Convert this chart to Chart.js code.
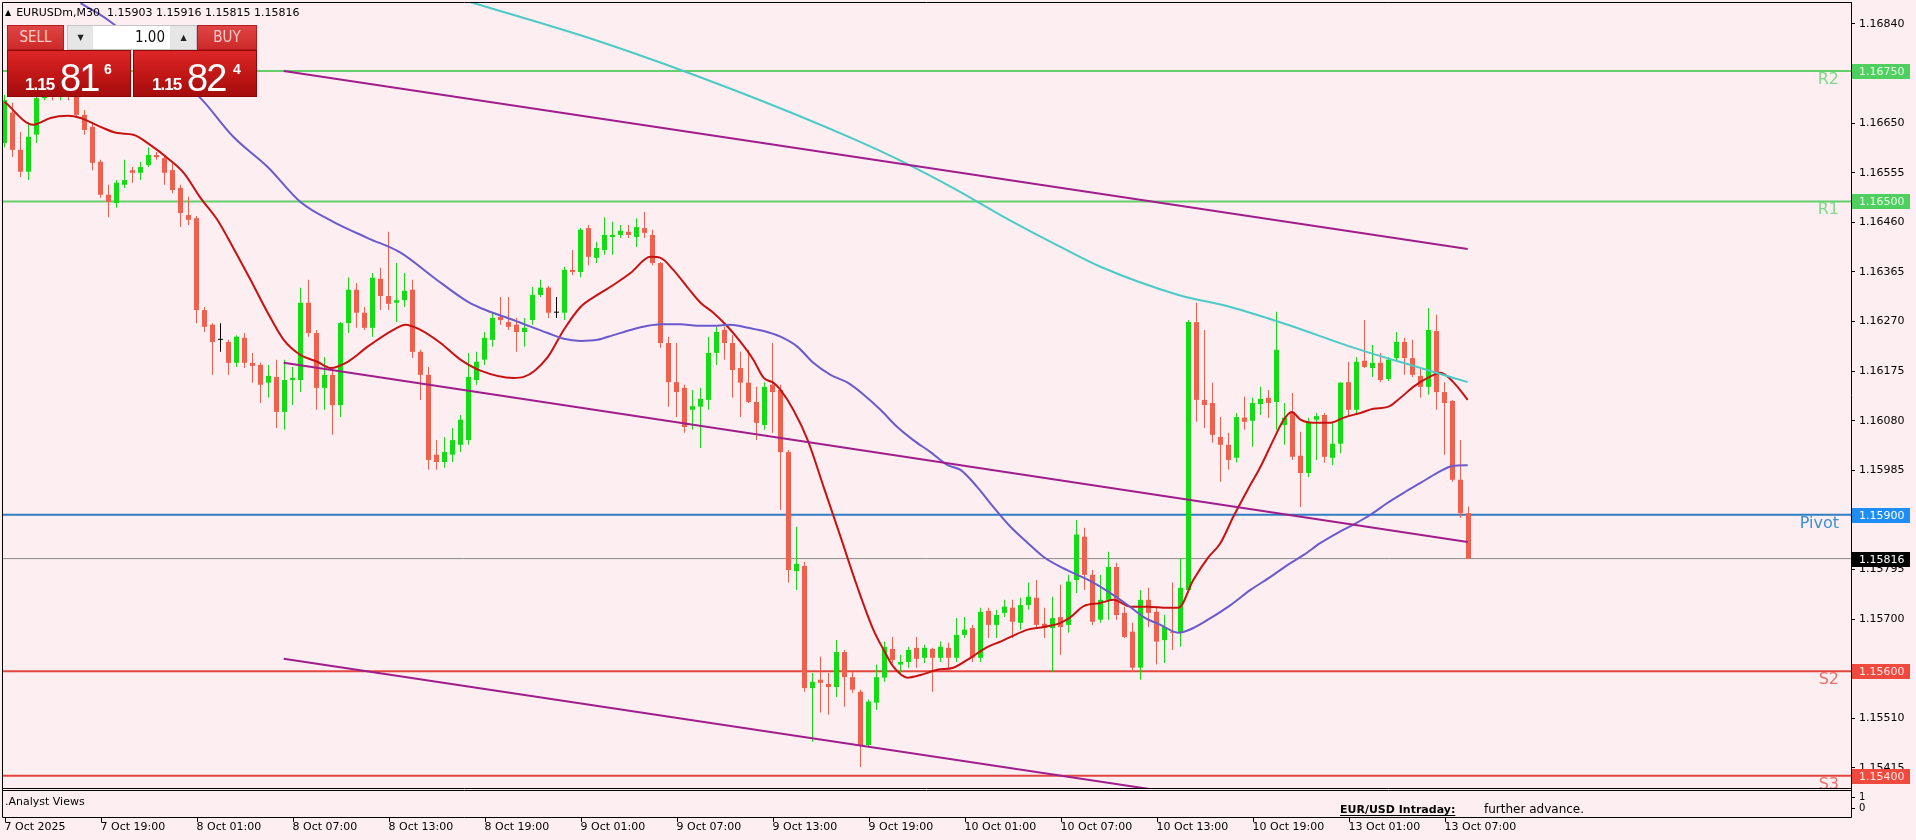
<!DOCTYPE html>
<html>
<head>
<meta charset="utf-8">
<title>EURUSDm,M30</title>
<script src="https://cdn.jsdelivr.net/npm/chart.js@4.4.1/dist/chart.umd.min.js"></script>
<style>
  html, body { margin:0; padding:0; background:#fdeef2; overflow:hidden; }
  #wrap { position:relative; width:1916px; height:840px; }
  #chart { position:absolute; left:0; top:0; }
  #title { position:absolute; left:5px; top:6px; font:11px 'DejaVu Sans', sans-serif; color:#000; white-space:pre; }
  #title .tri { font-size:8px; position:relative; top:-1px; margin-right:5px; }
  #otc { position:absolute; left:7px; top:25px; width:250px; height:72px; }
  .tbtn { position:absolute; top:0; height:25px; box-sizing:border-box; border:1px solid #b71c1c;
          background:linear-gradient(#e04444, #cc2a2a); color:#f7cccc; text-align:center;
          font:15px 'DejaVu Sans Condensed', 'DejaVu Sans', sans-serif; line-height:23px; }
  .lot { position:absolute; top:0; left:60px; width:130px; height:25px; box-sizing:border-box;
         background:#e6e6e6; border:1px solid #c4c4c4; }
  .lot .arr { position:absolute; top:0; width:25px; height:23px; text-align:center; font:8px 'DejaVu Sans'; line-height:23px; color:#222; }
  .lot .val { position:absolute; left:25px; top:0; width:77px; height:23px; background:#fff; text-align:right;
              box-sizing:border-box; padding-right:5px; font:15px 'DejaVu Sans Condensed', 'DejaVu Sans', sans-serif; line-height:23px; color:#111; }
  .px { position:absolute; top:25px; width:124px; height:47px; box-sizing:border-box; border:1px solid #8e0606;
        background:linear-gradient(#dc2626, #c01616 55%, #a50c0c); color:#fff; }
  .px span { position:absolute; line-height:1; white-space:nowrap; }
  .px .sm { top:24px; font:bold 17px 'Liberation Sans', sans-serif; letter-spacing:-1px; }
  .px .big { top:6px; font:38px 'Liberation Sans', sans-serif; letter-spacing:-2px; }
  .px .sup { top:10px; font:bold 14px 'Liberation Sans', sans-serif; }
</style>
</head>
<body>
<div id="wrap">
  <canvas id="chart" width="1916" height="840"></canvas>
  <div id="title"><span class="tri">&#9650;</span>EURUSDm,M30  1.15903 1.15916 1.15815 1.15816</div>
  <div id="otc">
    <div class="tbtn" style="left:0;width:57px;">SELL</div>
    <div class="lot">
      <span class="arr" style="left:0;">&#9660;</span>
      <span class="val">1.00</span>
      <span class="arr" style="right:0;">&#9650;</span>
    </div>
    <div class="tbtn" style="left:190px;width:60px;">BUY</div>
    <div class="px" style="left:0;">
      <span class="sm" style="left:17px;">1.15</span><span class="big" style="left:52px;">81</span><span class="sup" style="left:96px;">6</span>
    </div>
    <div class="px" style="left:126px;">
      <span class="sm" style="left:18px;">1.15</span><span class="big" style="left:53px;">82</span><span class="sup" style="left:99px;">4</span>
    </div>
  </div>
</div>
<script>
// EURUSDm M30, one candle per half hour, index 0 = 7 Oct 13:00
const opens = [
  1.16612,1.16670,1.16599,1.16557,1.16628,1.16698,1.16723,1.16700,1.16718,1.16704,
  1.16666,1.16643,1.16576,1.16513,1.16497,1.16532,1.16560,1.16555,1.16570,1.16589,
  1.16583,1.16560,1.16526,1.16474,1.16468,1.16292,1.16264,1.16235,1.16231,1.16191,
  1.16239,1.16191,1.16187,1.16153,1.16164,1.16097,1.16158,1.16158,1.16306,1.16248,
  1.16143,1.16168,1.16110,1.16267,1.16331,1.16287,1.16258,1.16352,1.16319,1.16306,
  1.16311,1.16331,1.16212,1.16168,1.16015,1.16001,1.16015,1.16034,1.16043,1.16158,
  1.16197,1.16235,1.16279,1.16269,1.16264,1.16250,1.16273,1.16321,1.16335,1.16287,
  1.16287,1.16369,1.16365,1.16449,1.16392,1.16407,1.16432,1.16436,1.16442,1.16432,
  1.16449,1.16436,1.16382,1.16229,1.16154,1.16143,1.16101,1.16107,1.16120,1.16210,
  1.16254,1.16229,1.16181,1.16153,1.16116,1.16072,1.16149,1.16139,1.16020,1.15792,
  1.15802,1.15568,1.15584,1.15576,1.15570,1.15637,1.15589,1.15561,1.15459,1.15540,
  1.15588,1.15643,1.15613,1.15618,1.15645,1.15626,1.15643,1.15626,1.15645,1.15626,
  1.15670,1.15683,1.15626,1.15716,1.15689,1.15712,1.15722,1.15693,1.15727,1.15741,
  1.15691,1.15683,1.15704,1.15689,1.15775,1.15858,1.15785,1.15699,1.15737,1.15800,
  1.15712,1.15676,1.15607,1.15737,1.15714,1.15660,1.15676,1.15674,1.15756,1.16269,
  1.16120,1.16114,1.16049,1.16034,1.16009,1.16086,1.16080,1.16112,1.16124,1.16116,
  1.16072,1.16097,1.16013,1.15980,1.16082,1.16091,1.16009,1.16036,1.16154,1.16101,
  1.16195,1.16181,1.16191,1.16160,1.16200,1.16231,1.16200,1.16166,1.16145,1.16252,
  1.16135,1.16118,1.15967,1.15903
];
const highs = [
  1.16704,1.16689,1.16633,1.16652,1.16714,1.16742,1.16737,1.16733,1.16729,1.16723,
  1.16675,1.16652,1.16580,1.16532,1.16541,1.16580,1.16566,1.16576,1.16604,1.16595,
  1.16589,1.16574,1.16532,1.16509,1.16472,1.16298,1.16267,1.16267,1.16235,1.16244,
  1.16248,1.16210,1.16191,1.16187,1.16197,1.16197,1.16183,1.16335,1.16350,1.16254,
  1.16202,1.16183,1.16269,1.16355,1.16344,1.16298,1.16363,1.16373,1.16442,1.16382,
  1.16363,1.16350,1.16216,1.16183,1.16043,1.16049,1.16066,1.16091,1.16210,1.16212,
  1.16250,1.16287,1.16317,1.16317,1.16277,1.16277,1.16336,1.16350,1.16338,1.16317,
  1.16375,1.16407,1.16449,1.16455,1.16423,1.16470,1.16461,1.16455,1.16455,1.16468,
  1.16480,1.16446,1.16384,1.16241,1.16229,1.16149,1.16139,1.16143,1.16241,1.16260,
  1.16260,1.16244,1.16212,1.16216,1.16145,1.16154,1.16229,1.16149,1.16024,1.15877,
  1.15810,1.15597,1.15628,1.15597,1.15660,1.15641,1.15599,1.15565,1.15546,1.15613,
  1.15657,1.15666,1.15632,1.15647,1.15666,1.15651,1.15645,1.15657,1.15655,1.15702,
  1.15704,1.15689,1.15722,1.15722,1.15718,1.15737,1.15737,1.15741,1.15770,1.15775,
  1.15722,1.15743,1.15766,1.15785,1.15890,1.15875,1.15794,1.15785,1.15829,1.15808,
  1.15724,1.15693,1.15756,1.15760,1.15724,1.15708,1.15770,1.15817,1.16273,1.16306,
  1.16254,1.16153,1.16087,1.16057,1.16095,1.16126,1.16124,1.16145,1.16139,1.16289,
  1.16114,1.16133,1.16059,1.16086,1.16095,1.16095,1.16076,1.16154,1.16193,1.16202,
  1.16273,1.16225,1.16210,1.16202,1.16250,1.16239,1.16235,1.16183,1.16296,1.16283,
  1.16154,1.16120,1.16043,1.15916
];
const lows = [
  1.16604,1.16585,1.16547,1.16541,1.16612,1.16694,1.16694,1.16694,1.16694,1.16660,
  1.16628,1.16560,1.16507,1.16470,1.16488,1.16526,1.16536,1.16541,1.16566,1.16580,
  1.16532,1.16516,1.16451,1.16455,1.16267,1.16250,1.16168,1.16212,1.16168,1.16183,
  1.16181,1.16153,1.16114,1.16124,1.16066,1.16063,1.16110,1.16135,1.16241,1.16101,
  1.16101,1.16053,1.16087,1.16248,1.16258,1.16254,1.16241,1.16292,1.16292,1.16269,
  1.16298,1.16200,1.16120,1.15986,1.15986,1.15990,1.16001,1.16020,1.16034,1.16149,
  1.16187,1.16222,1.16264,1.16254,1.16212,1.16222,1.16264,1.16317,1.16277,1.16277,
  1.16273,1.16359,1.16355,1.16378,1.16382,1.16398,1.16398,1.16430,1.16430,1.16413,
  1.16430,1.16378,1.16220,1.16107,1.16087,1.16057,1.16063,1.16028,1.16101,1.16187,
  1.16197,1.16124,1.16087,1.16114,1.16043,1.16063,1.16057,1.15909,1.15770,1.15756,
  1.15561,1.15465,1.15521,1.15517,1.15551,1.15532,1.15559,1.15417,1.15456,1.15526,
  1.15580,1.15616,1.15597,1.15607,1.15607,1.15616,1.15561,1.15618,1.15607,1.15618,
  1.15664,1.15618,1.15618,1.15664,1.15664,1.15704,1.15664,1.15680,1.15718,1.15685,
  1.15664,1.15599,1.15632,1.15674,1.15750,1.15756,1.15689,1.15693,1.15699,1.15699,
  1.15664,1.15599,1.15584,1.15685,1.15613,1.15616,1.15641,1.15647,1.15750,1.16078,
  1.16066,1.16038,1.15963,1.15986,1.16000,1.16063,1.16030,1.16091,1.16086,1.16063,
  1.16034,1.16005,1.15915,1.15972,1.16005,1.16000,1.15995,1.16018,1.16087,1.16095,
  1.16181,1.16164,1.16154,1.16156,1.16193,1.16168,1.16164,1.16124,1.16130,1.16101,
  1.16015,1.15963,1.15894,1.15815
];
const closes = [
  1.16694,1.16599,1.16557,1.16624,1.16698,1.16723,1.16704,1.16718,1.16702,1.16666,
  1.16637,1.16574,1.16513,1.16499,1.16536,1.16541,1.16555,1.16566,1.16589,1.16585,
  1.16555,1.16522,1.16478,1.16465,1.16292,1.16260,1.16231,1.16235,1.16191,1.16241,
  1.16191,1.16185,1.16149,1.16166,1.16097,1.16158,1.16162,1.16306,1.16248,1.16143,
  1.16168,1.16110,1.16267,1.16331,1.16287,1.16258,1.16354,1.16319,1.16304,1.16311,
  1.16329,1.16212,1.16168,1.16005,1.16001,1.16020,1.16043,1.16082,1.16164,1.16193,
  1.16239,1.16277,1.16273,1.16260,1.16250,1.16258,1.16321,1.16335,1.16287,1.16287,
  1.16369,1.16365,1.16446,1.16394,1.16411,1.16436,1.16436,1.16444,1.16436,1.16451,
  1.16440,1.16382,1.16229,1.16154,1.16135,1.16068,1.16108,1.16122,1.16210,1.16250,
  1.16229,1.16177,1.16153,1.16116,1.16076,1.16145,1.16135,1.16020,1.15794,1.15806,
  1.15568,1.15580,1.15578,1.15570,1.15637,1.15589,1.15565,1.15459,1.15542,1.15589,
  1.15647,1.15622,1.15618,1.15641,1.15624,1.15645,1.15626,1.15647,1.15626,1.15670,
  1.15680,1.15626,1.15714,1.15689,1.15708,1.15724,1.15695,1.15727,1.15743,1.15689,
  1.15683,1.15702,1.15685,1.15772,1.15862,1.15785,1.15695,1.15737,1.15800,1.15708,
  1.15666,1.15607,1.15737,1.15712,1.15657,1.15685,1.15674,1.15760,1.16269,1.16120,
  1.16110,1.16053,1.16034,1.16005,1.16087,1.16078,1.16114,1.16122,1.16114,1.16216,
  1.16086,1.16011,1.15980,1.16078,1.16089,1.16011,1.16036,1.16153,1.16101,1.16193,
  1.16183,1.16191,1.16158,1.16197,1.16231,1.16200,1.16168,1.16145,1.16254,1.16135,
  1.16114,1.15967,1.15903,1.15816
];

// moving averages: [bar index, price]
const maFast = [
  [0,1.16691],[3.6,1.16647],[5.75,1.16660],[7.9,1.16664],[9.5,1.16660],[12,1.16643],[14.1,1.16631],
  [16.1,1.16628],[18.25,1.16608],[20.4,1.16583],[22.4,1.16555],[24.5,1.16507],[26.6,1.16465],
  [28.6,1.16411],[30.75,1.16350],[32.9,1.16287],[34.9,1.16235],[37,1.16206],[39.1,1.16193],
  [40.75,1.16181],[42.9,1.16193],[45.4,1.16222],[48.6,1.16254],[50.1,1.16264],[52,1.16254],
  [54.5,1.16229],[57,1.16197],[59.5,1.16176],[63.6,1.16162],[64.9,1.16164],[67.9,1.16202],
  [69.9,1.16254],[72,1.16298],[74.1,1.16321],[76.1,1.16340],[78.25,1.16363],[80.75,1.16394],
  [82,1.16392],[83.6,1.16369],[85.4,1.16335],[87,1.16306],[88.6,1.16287],[90.4,1.16260],
  [92,1.16231],[93.6,1.16197],[94.9,1.16162],[96.1,1.16153],[97,1.16139],[98.6,1.16101],
  [100.4,1.16043],[102.4,1.15953],[104.5,1.15858],[106.6,1.15762],[108.6,1.15680],[109.9,1.15641],
  [111.1,1.15609],[112.9,1.15588],[114.5,1.15593],[116.6,1.15603],[118.6,1.15607],[120.75,1.15626],
  [122.9,1.15647],[124.5,1.15657],[125.75,1.15666],[127.9,1.15680],[129.9,1.15685],[132,1.15693],
  [133.25,1.15704],[134.9,1.15725],[137,1.15731],[138.6,1.15737],[140.75,1.15724],[142.9,1.15724],
  [145.4,1.15722],[146.75,1.15722],[148.6,1.15775],[150.4,1.15817],[152,1.15846],[153.6,1.15896],
  [155.4,1.15948],[157,1.15992],[158.6,1.16043],[159.9,1.16082],[160.9,1.16097],[162,1.16082],
  [163.6,1.16076],[165.75,1.16076],[167.4,1.16086],[169.5,1.16095],[171.1,1.16103],[173,1.16107],
  [174.5,1.16124],[176.1,1.16145],[177.9,1.16162],[179.5,1.16172],[181.1,1.16154],[182.9,1.16120]
];
const maMid = [
  [9.5,1.16880],[12.9,1.16848],[24.5,1.16698],[28.6,1.16624],[32.9,1.16566],[37,1.16499],
  [41.1,1.16461],[45.4,1.16430],[49.5,1.16402],[53.6,1.16355],[57.9,1.16308],[59.5,1.16296],
  [63.6,1.16273],[67.9,1.16248],[69.9,1.16237],[72,1.16233],[74.1,1.16235],[76.1,1.16244],
  [78.25,1.16254],[80.4,1.16262],[82,1.16265],[84.5,1.16265],[86.6,1.16262],[88.6,1.16262],
  [90.75,1.16264],[92.9,1.16258],[94.9,1.16252],[97,1.16241],[99.1,1.16222],[101.1,1.16191],
  [103.25,1.16168],[105.4,1.16153],[107.4,1.16130],[109.5,1.16101],[111.6,1.16068],[113.6,1.16043],
  [115.75,1.16020],[117.9,1.15995],[119.5,1.15986],[121.6,1.15953],[123.6,1.15915],[125.75,1.15877],
  [127.9,1.15846],[129.9,1.15819],[132,1.15800],[134.1,1.15785],[136.1,1.15770],[138.25,1.15750],
  [140.4,1.15727],[142.4,1.15704],[144.5,1.15689],[146.75,1.15674],[148.6,1.15683],[150.75,1.15702],
  [153.25,1.15727],[155.75,1.15756],[158.25,1.15781],[160.4,1.15804],[162.4,1.15823],[164.5,1.15846],
  [166.6,1.15865],[168.6,1.15881],[170.75,1.15900],[172.9,1.15923],[174.9,1.15942],[177,1.15961],
  [179.1,1.15980],[181.1,1.15994],[182.9,1.15995]
];
const maSlow = [
  [58.25,1.16882],[74.5,1.16806],[91.1,1.16714],[106.4,1.16618],[111.75,1.16580],[119.5,1.16518],
  [124.5,1.16474],[132,1.16413],[137,1.16375],[146.75,1.16321],[153.25,1.16298],[160.4,1.16264],
  [168.6,1.16220],[177,1.16181],[182.9,1.16154]
];

// regression channel
const channelIdx = [34.9, 182.9];
const channelUpper = [1.16750, 1.16409];
const channelMiddle = [1.16191, 1.15848];
const channelLower = [1.15624, 1.15283];

// pivot levels
const levelNames = ['R2', 'R1', 'Pivot', 'S2', 'S3'];
const levelValues = [1.16750, 1.16500, 1.15900, 1.15600, 1.15400];
const lastPrice = 1.15816;

const priceTicks = [1.16840,1.16745,1.16650,1.16555,1.16460,1.16365,1.16270,1.16175,1.16080,
                    1.15985,1.15890,1.15795,1.15700,1.15605,1.15510,1.15415];
const timeTickIdx = [0,12,24,36,48,60,72,84,96,108,120,132,144,156,168,180];
const timeTickText = ['7 Oct 2025','7 Oct 19:00','8 Oct 01:00','8 Oct 07:00','8 Oct 13:00','8 Oct 19:00',
                      '9 Oct 01:00','9 Oct 07:00','9 Oct 13:00','9 Oct 19:00','10 Oct 01:00','10 Oct 07:00',
                      '10 Oct 13:00','10 Oct 19:00','13 Oct 01:00','13 Oct 07:00'];

const BULL = '#14dc14', BEAR = '#f0604e', DOJI = '#000000';
const levelLine = ['#62cf6a', '#62cf6a', '#2f7ec4', '#e2463e', '#e2463e'];
const levelText = ['#7fd987', '#7fd987', '#3d8fd6', '#e8706a', '#e8706a'];
const levelBox = ['#4fcf5f', '#4fcf5f', '#1e8ef5', '#f04a3e', '#f04a3e'];
const levelBoxText = ['#e4fbe6', '#e4fbe6', '#ffffff', '#ffe6e4', '#ffe6e4'];

const idx = opens.map((_, i) => i);
const candleColor = idx.map(i => closes[i] > opens[i] ? BULL : closes[i] < opens[i] ? BEAR : DOJI);

Chart.defaults.font.family = "'DejaVu Sans', sans-serif";
Chart.defaults.font.size = 11;
Chart.defaults.color = '#000';

const toPts = arr => arr.map(([i, v]) => ({ x: i, y: v }));
const hLine = (v, color, width, order) => ({
  type: 'line', data: [{ x: -1, y: v }, { x: 240, y: v }], borderColor: color, borderWidth: width,
  pointRadius: 0, order, clip: 0
});
const maLine = (pts, color) => ({
  type: 'line', data: toPts(pts), borderColor: color, borderWidth: 2, pointRadius: 0,
  cubicInterpolationMode: 'monotone', order: 2, clip: 0
});
const channel = (vals) => ({
  type: 'line', data: channelIdx.map((i, k) => ({ x: i, y: vals[k] })), borderColor: '#a01e8c',
  borderWidth: 2, pointRadius: 0, order: 1, clip: 0
});

const decor = {
  id: 'decor',
  afterDatasetsDraw(chart) {
    const { ctx, chartArea: a, scales: { y } } = chart;
    ctx.save();
    ctx.beginPath();
    ctx.rect(a.left, a.top, a.right - a.left, a.bottom - a.top);
    ctx.clip();
    ctx.font = "16px 'DejaVu Sans'";
    ctx.textAlign = 'right';
    ctx.textBaseline = 'alphabetic';
    levelNames.forEach((n, k) => {
      ctx.fillStyle = levelText[k];
      ctx.fillText(n, 1839, Math.round(y.getPixelForValue(levelValues[k])) + 13);
    });
    ctx.restore();
  },
  afterDraw(chart) {
    const { ctx, chartArea: a, scales: { x, y } } = chart;
    ctx.save();
    ctx.strokeStyle = '#000';
    ctx.lineWidth = 1;
    ctx.beginPath();
    ctx.moveTo(a.right, a.top + 0.5); ctx.lineTo(a.left + 0.5, a.top + 0.5); ctx.lineTo(a.left + 0.5, 817.5);
    ctx.lineTo(a.right + 0.5, 817.5); ctx.lineTo(a.right + 0.5, a.bottom);
    ctx.moveTo(a.left, a.bottom + 0.5); ctx.lineTo(a.right, a.bottom + 0.5);
    ctx.moveTo(a.left, 790.5); ctx.lineTo(a.right, 790.5);
    timeTickIdx.forEach(t => {
      const px = Math.round(x.getPixelForValue(t)) + 0.5;
      ctx.moveTo(px, 818); ctx.lineTo(px, 822);
    });
    ctx.moveTo(a.right, 797.5); ctx.lineTo(a.right + 4, 797.5);
    ctx.moveTo(a.right, 808.5); ctx.lineTo(a.right + 4, 808.5);
    ctx.stroke();

    // price tags on the right scale
    ctx.font = "11px 'DejaVu Sans'";
    ctx.textAlign = 'left';
    ctx.textBaseline = 'middle';
    const tag = (v, fill, txt) => {
      const py = Math.round(y.getPixelForValue(v));
      ctx.fillStyle = fill;
      ctx.fillRect(a.right + 1, py - 7, 58, 15);
      ctx.fillStyle = txt;
      ctx.fillText(v.toFixed(5), a.right + 8, py + 1);
    };
    levelValues.forEach((v, k) => tag(v, levelBox[k], levelBoxText[k]));
    tag(lastPrice, '#000', '#fff');

    // indicator sub-window
    ctx.fillStyle = '#000';
    ctx.font = "10px 'DejaVu Sans'";
    ctx.fillText('1', a.right + 8, 797);
    ctx.fillText('0', a.right + 8, 808);
    ctx.font = "11px 'DejaVu Sans'";
    ctx.fillText('.Analyst Views', 5, 802);
    ctx.textBaseline = 'alphabetic';
    ctx.font = "bold 11px 'DejaVu Sans'";
    ctx.fillText('EUR/USD Intraday:', 1340, 813);
    const w = ctx.measureText('EUR/USD Intraday:').width;
    ctx.fillRect(1340, 815, w, 1);
    ctx.font = "12px 'DejaVu Sans'";
    ctx.fillText('further advance.', 1484, 813);
    ctx.restore();
  }
};

new Chart(document.getElementById('chart'), {
  type: 'bar',
  data: {
    datasets: [
      ...levelValues.map((v, k) => hLine(v, levelLine[k], 2, 10)),
      hLine(lastPrice, '#8c8c8c', 1, 10),
      { type: 'bar', data: idx.map(i => ({ x: i, y: [lows[i], highs[i]] })), backgroundColor: candleColor,
        barThickness: 1, grouped: false, inflateAmount: 0, order: 6 },
      { type: 'bar', data: idx.map(i => ({ x: i, y: [opens[i], closes[i]] })), backgroundColor: candleColor,
        barThickness: 5, minBarLength: 1, grouped: false, inflateAmount: 0, order: 5 },
      maLine(maSlow, '#4ccac6'),
      maLine(maMid, '#6a5acd'),
      maLine(maFast, '#c81212'),
      channel(channelUpper),
      channel(channelMiddle),
      channel(channelLower)
    ]
  },
  options: {
    responsive: false,
    animation: false,
    devicePixelRatio: 1,
    events: [],
    layout: { padding: { left: 2, top: 2, right: 0, bottom: 0 } },
    plugins: { legend: { display: false }, tooltip: { enabled: false } },
    scales: {
      x: {
        type: 'linear', min: -0.3125, max: 230.8125, offset: false,
        grid: { display: false, drawTicks: false },
        border: { display: false },
        ticks: { padding: 33, align: 'start', autoSkip: false, maxRotation: 0, minRotation: 0,
                 callback: v => timeTickText[timeTickIdx.indexOf(v)] },
        afterBuildTicks: s => { s.ticks = timeTickIdx.map(v => ({ value: v })); },
        afterFit: s => { s.height = 52; s.paddingLeft = 0; s.paddingRight = 0; }
      },
      y: {
        position: 'right', min: 1.153766, max: 1.168821,
        grid: { drawOnChartArea: false, drawTicks: true, tickLength: 4, color: '#000' },
        border: { display: true, color: '#000' },
        ticks: { padding: 4, autoSkip: false, callback: v => v.toFixed(5) },
        afterBuildTicks: s => { s.ticks = priceTicks.map(v => ({ value: v })); },
        afterFit: s => { s.width = 65; s.paddingTop = 0; s.paddingBottom = 0; }
      }
    }
  },
  plugins: [decor]
});
</script>
</body>
</html>
